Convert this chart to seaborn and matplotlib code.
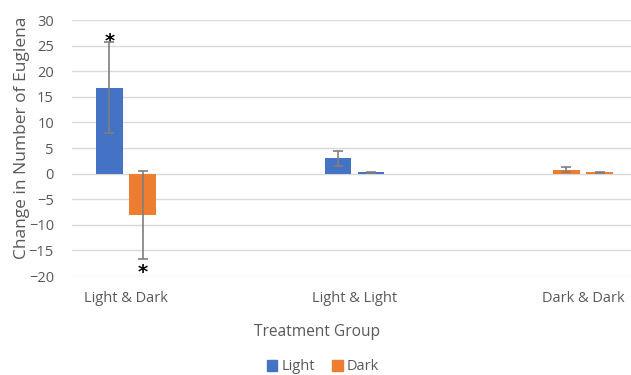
import matplotlib
matplotlib.use("Agg")
import matplotlib.pyplot as plt
import seaborn as sns
import pandas as pd
import numpy as np
from matplotlib.patches import Patch

groups = ["Light & Dark", "Light & Light", "Dark & Dark"]
light_vals = [16.8, 3.0, 0.8]
light_err = [8.9, 1.5, 0.45]
dark_vals = [-8.0, 0.25, 0.25]
dark_err = [8.6, 0.1, 0.1]
bar_colors = {("Light & Dark", "Light"): "#4472C4", ("Light & Dark", "Dark"): "#ED7D31",
              ("Light & Light", "Light"): "#4472C4", ("Light & Light", "Dark"): "#4472C4",
              ("Dark & Dark", "Light"): "#ED7D31", ("Dark & Dark", "Dark"): "#ED7D31"}

df = pd.DataFrame({
    "group": groups * 2,
    "series": ["Light"] * 3 + ["Dark"] * 3,
    "value": light_vals + dark_vals,
    "err": light_err + dark_err,
})

sns.set_style("white")
plt.rcParams["font.family"] = ["Open Sans", "DejaVu Sans"]
fig = plt.figure(figsize=(6.31, 3.75), dpi=100)
ax = fig.add_axes([72 / 631, 99 / 375, 559 / 631, 256 / 375])

sns.barplot(data=df, x="group", y="value", hue="series", order=groups,
            hue_order=["Light", "Dark"], palette={"Light": "#4472C4", "Dark": "#ED7D31"},
            width=0.29, gap=0.2, errorbar=None, legend=False, ax=ax, zorder=3)

patches = [p for p in ax.patches]
idx = 0
for s in ["Light", "Dark"]:
    for g in groups:
        p = patches[idx]
        idx += 1
        row = df[(df.group == g) & (df.series == s)].iloc[0]
        p.set_facecolor(bar_colors[(g, s)])
        p.set_edgecolor("none")
        xc = p.get_x() + p.get_width() / 2
        ax.errorbar(xc, row.value, yerr=row.err, color="#7f7f7f", lw=1.2,
                    capsize=3.5, capthick=1.2, zorder=4)
        if g == "Light & Dark":
            ty = 23.9 if s == "Light" else -21.2
            ax.text(xc, ty, "*", ha="center", va="bottom", clip_on=False,
                    fontsize=14, fontweight="bold", color="black", family="DejaVu Sans")

ax.set_ylim(-20, 30)
ax.set_yticks(np.arange(-20, 31, 5))
ax.set_xlim(-0.236, 2.21)
ax.grid(axis="y", color="#d9d9d9", lw=1, zorder=0)
ax.set_axisbelow(True)
for sp in ax.spines.values():
    sp.set_visible(False)
ax.tick_params(axis="both", length=0, colors="#595959", labelsize=10.5)
ax.tick_params(axis="y", pad=13)
ax.tick_params(axis="x", pad=11)
ax.set_xlabel("Treatment Group", color="#595959", fontsize=11.2)
ax.xaxis.set_label_coords(0.438, -0.188)
ax.set_ylabel("Change in Number of Euglena", color="#595959", fontsize=12.5)
ax.yaxis.set_label_coords(-0.075, 0.539)

handles = [Patch(color="#4472C4", label="Light"), Patch(color="#ED7D31", label="Dark")]
fig.legend(handles=handles, loc="center", bbox_to_anchor=(0.512, 1 - 367 / 375), ncol=2,
           frameon=False, fontsize=10.5, handlelength=0.7, handleheight=0.7,
           handletextpad=0.3, columnspacing=1.2, labelcolor="#595959")

fig.savefig("out.png", dpi=100)
